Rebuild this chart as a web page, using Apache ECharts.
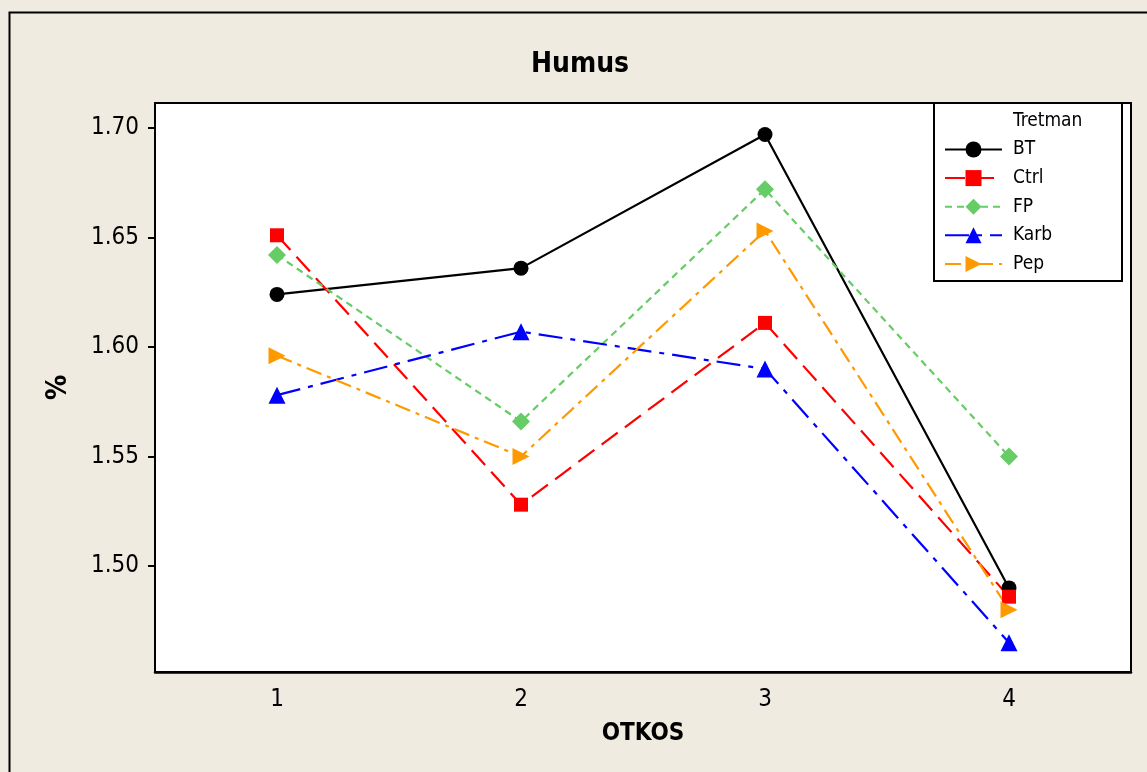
<!DOCTYPE html>
<html>
<head>
<meta charset="utf-8">
<script src="https://cdn.jsdelivr.net/npm/echarts@6/dist/echarts.min.js"></script>
<style>
html,body{margin:0;padding:0;background:#EFEBE1;}
#c{width:1147px;height:772px;}
</style>
</head>
<body>
<div id="c"></div>
<script>
const categories = ['1', '2', '3', '4'];
const yTicks = [1.50, 1.55, 1.60, 1.65, 1.70];
const seriesNames = ['BT', 'Ctrl', 'FP', 'Karb', 'Pep'];
const BT   = [1.624, 1.636, 1.697, 1.490];
const Ctrl = [1.651, 1.528, 1.611, 1.486];
const FP   = [1.642, 1.566, 1.672, 1.550];
const Karb = [1.578, 1.607, 1.590, 1.465];
const Pep  = [1.596, 1.550, 1.653, 1.480];

const FONT = "'DejaVu Sans Condensed', 'DejaVu Sans', sans-serif";
const chart = echarts.init(document.getElementById('c'), null, {renderer: 'canvas'});

const styles = {
  BT:   {color: '#000000', type: 'solid', symbol: 'circle', size: 15, rot: 0},
  Ctrl: {color: '#FF0000', type: [20, 9], symbol: 'rect', size: 14, rot: 0},
  FP:   {color: '#66CC66', type: [7, 5], symbol: 'diamond', size: 18, rot: 0},
  Karb: {color: '#0000FF', type: [24, 8, 5, 8], symbol: 'triangle', size: 17, rot: 0},
  Pep:  {color: '#FF9900', type: [16, 6, 4, 6], symbol: 'triangle', size: 17, rot: -90}
};
const dataMap = {BT, Ctrl, FP, Karb, Pep};

const series = seriesNames.map(n => ({
  name: n,
  type: 'line',
  data: dataMap[n],
  symbol: styles[n].symbol,
  symbolSize: styles[n].size,
  symbolRotate: styles[n].rot,
  showAllSymbol: true,
  lineStyle: {color: styles[n].color, width: 2.2, type: styles[n].type},
  itemStyle: {color: styles[n].color},
  emphasis: {disabled: true},
  animation: false
}));

chart.setOption({
  backgroundColor: '#EFEBE1',
  animation: false,
  grid: {
    left: 155, top: 103, right: 16, bottom: 100,
    show: true, backgroundColor: '#FFFFFF', borderColor: '#000000', borderWidth: 2
  },
  title: {
    text: 'Humus',
    left: 575, top: 46, textAlign: 'center',
    textStyle: {fontFamily: FONT, fontWeight: 'bold', fontSize: 28, color: '#000'}
  },
  xAxis: {
    type: 'category',
    data: categories,
    boundaryGap: true,
    name: 'OTKOS',
    nameLocation: 'middle',
    nameGap: 50,
    nameTextStyle: {fontFamily: FONT, fontWeight: 'bold', fontSize: 24, color: '#000'},
    axisLine: {lineStyle: {color: '#000', width: 2.5}},
    axisTick: {alignWithLabel: true, length: 7, lineStyle: {color: '#000', width: 2}},
    axisLabel: {fontFamily: FONT, fontSize: 24, color: '#000', margin: 16},
    splitLine: {show: false}
  },
  yAxis: {
    type: 'value',
    min: 1.4516,
    max: 1.7114,
    name: '%',
    nameLocation: 'middle',
    nameGap: 82,
    nameRotate: 90,
    nameTextStyle: {fontFamily: FONT, fontWeight: 'bold', fontSize: 28, color: '#000'},
    axisLine: {show: true, lineStyle: {color: '#000', width: 2}},
    axisTick: {show: true, length: 7, customValues: yTicks, lineStyle: {color: '#000', width: 2}},
    axisLabel: {fontFamily: FONT, fontSize: 24, color: '#000', margin: 16,
      customValues: yTicks, formatter: v => v.toFixed(2)},
    splitLine: {show: false}
  },
  legend: {
    data: seriesNames,
    orient: 'vertical',
    left: 944, top: 140,
    padding: 0,
    itemWidth: 57, itemHeight: 20,
    itemGap: 9.6,
    textStyle: {fontFamily: FONT, fontSize: 19, color: '#000', padding: [0, 0, 0, 6]},
    selectedMode: false
  },
  graphic: [
    {type: 'rect', z: -1, silent: true,
      shape: {x: 9.5, y: 12.5, width: 1200, height: 900},
      style: {fill: 'transparent', stroke: '#000', lineWidth: 2}},
    {type: 'rect', z: 1, silent: true,
      shape: {x: 934, y: 103, width: 188, height: 178},
      style: {fill: '#FFFFFF', stroke: '#000', lineWidth: 2}},
    {type: 'text', z: 2, silent: true, left: 1013, top: 112,
      style: {text: 'Tretman', fontFamily: FONT, fontSize: 19, fill: '#000'}}
  ],
  series: series
});
</script>
</body>
</html>
